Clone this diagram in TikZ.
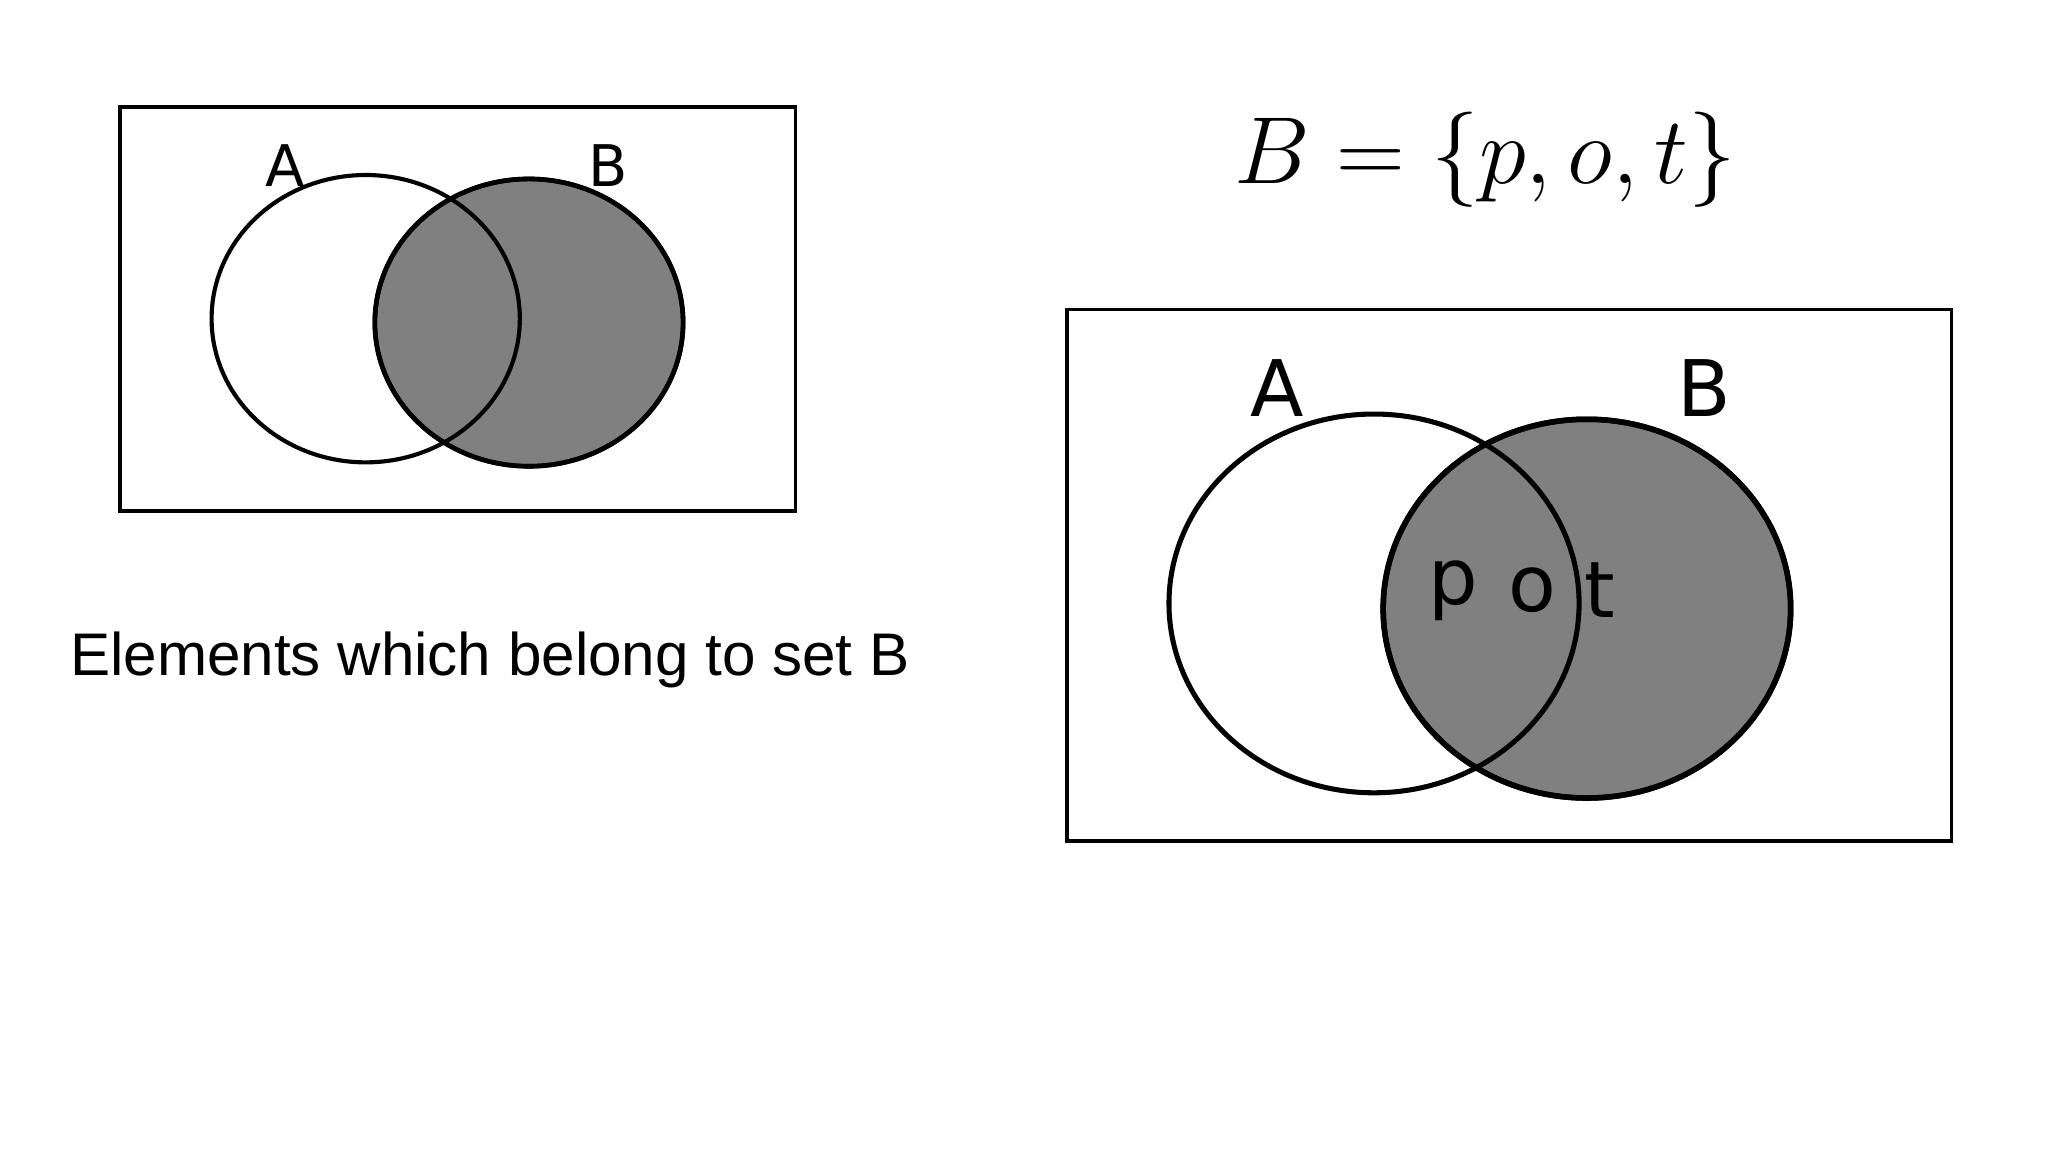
\documentclass[tikz,border=0pt]{standalone}
\usepackage{fontspec}
\setsansfont{DejaVu Sans}
\newfontfamily\arial{Liberation Sans}
\begin{document}
\begin{tikzpicture}[x=0.01cm,y=-0.01cm,
  frame/.style={draw=black,line width=0.8pt},
  setA/.style={draw=black,line width=0.9pt},
  setB/.style={draw=black,line width=1.0pt,fill=gray50},
  lab/.style={font=\sffamily\fontsize{12.5}{14}\selectfont},
  labbig/.style={font=\sffamily\fontsize{17}{19}\selectfont}]
\definecolor{gray50}{HTML}{808080}
\useasboundingbox (0,0) rectangle (1568,882);
% left diagram
\coordinate (r1a) at (92,82);
\coordinate (r1b) at (609,391);
\draw[frame] (r1a) rectangle (r1b);
\filldraw[setB] (405,247) ellipse [x radius=118,y radius=110];
\draw[setA] (280,244) ellipse [x radius=118,y radius=110];
\draw[setB,fill=none] (405,247) ellipse [x radius=118,y radius=110];
\node[lab] (la) at (218,127) {A};
\node[lab] (lb) at (466,127) {B};
\node[anchor=west,inner sep=0,font=\arial\fontsize{13.1}{15}\selectfont] (txt) at (53,505) {Elements which belong to set B};
% equation
\node[font=\fontsize{19.8}{22}\selectfont] (eq) at (1137,122) {$B=\{p,o,t\}$};
% right diagram
\coordinate (r2a) at (817,237);
\coordinate (r2b) at (1494,644);
\draw[frame] (r2a) rectangle (r2b);
\filldraw[setB,line width=1.2pt] (1215,466) ellipse [x radius=156,y radius=145];
\draw[setA,line width=1.1pt] (1052,462) ellipse [x radius=157,y radius=145];
\draw[setB,fill=none,line width=1.2pt] (1215,466) ellipse [x radius=156,y radius=145];
\node[labbig] (ra) at (978,297) {A};
\node[labbig] (rb) at (1305,297) {B};
\node[labbig] (p) at (1113,452) {p};
\node[labbig] (o) at (1173,452) {o};
\node[labbig] (t) at (1225,452) {t};
\end{tikzpicture}
\end{document}
